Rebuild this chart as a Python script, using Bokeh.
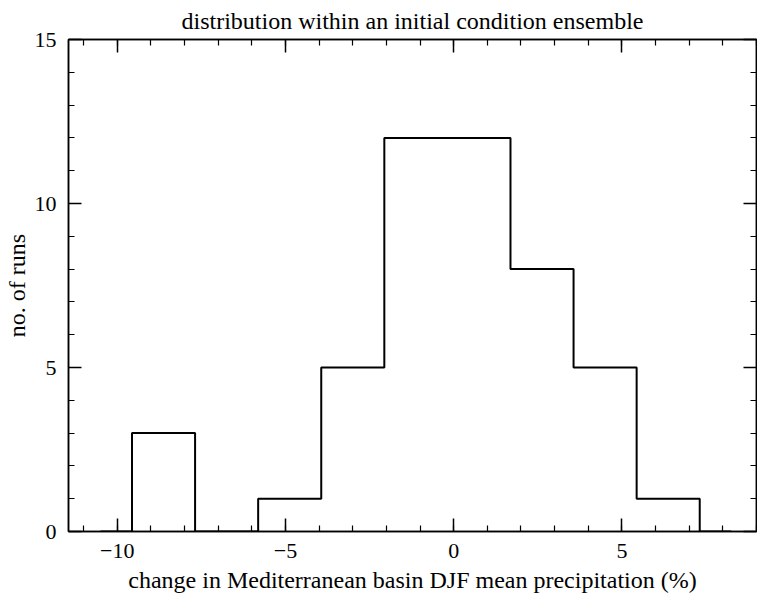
from bokeh.plotting import figure
from bokeh.models import Range1d, LinearAxis, SingleIntervalTicker
from bokeh.embed import file_html
from bokeh.resources import INLINE

# ---- data ----
bin_centers = [-10.5, -8.625, -6.75, -4.875, -3.0, -1.125, 0.75, 2.625, 4.5, 6.375, 8.25]
run_counts = [0, 3, 0, 1, 5, 12, 12, 8, 5, 1, 0]
x_tick_values = [-10, -5, 0, 5]
x_tick_labels = ["\u221210", "\u22125", "0", "5"]
y_tick_values = [0, 5, 10, 15]
y_tick_labels = ["0", "5", "10", "15"]

title_text = "distribution within an initial condition ensemble"
x_label = "change in Mediterranean basin DJF mean precipitation (%)"
y_label = "no. of runs"

FONT = "Liberation Serif"

p = figure(width=757, height=600, output_backend="svg", toolbar_location=None,
           x_range=Range1d(-11.45, 9.0), y_range=Range1d(0, 15),
           x_axis_type=None, y_axis_type=None,
           min_border_left=68, min_border_right=1, min_border_top=39, min_border_bottom=69)
p.background_fill_color = "white"
p.border_fill_color = "white"
p.outline_line_color = "black"
p.outline_line_width = 1.5
p.grid.visible = False

p.title.text = title_text
p.title.text_font = FONT
p.title.text_font_size = "24px"
p.title.text_font_style = "normal"
p.title.text_color = "black"
p.title.align = "center"
p.title.standoff = 11


def style_axis(ax, labels, show):
    ax.axis_line_color = "black"
    ax.axis_line_width = 1.5
    ax.major_tick_in = 13
    ax.major_tick_out = 0
    ax.minor_tick_in = 6
    ax.minor_tick_out = 0
    ax.major_tick_line_color = "black"
    ax.major_tick_line_width = 1.5
    ax.minor_tick_line_color = "black"
    ax.minor_tick_line_width = 1.2
    if show:
        ax.major_label_text_font = FONT
        ax.major_label_text_font_size = "22px"
        ax.major_label_text_color = "black"
        ax.major_label_overrides = dict(zip(labels[0], labels[1]))
        ax.axis_label_text_font = FONT
        ax.axis_label_text_font_size = "24px"
        ax.axis_label_text_font_style = "normal"
        ax.axis_label_text_color = "black"
    else:
        ax.major_label_text_font_size = "1px"
        ax.major_label_text_color = None
        ax.major_label_standoff = 0


xb = LinearAxis(ticker=SingleIntervalTicker(interval=5, num_minor_ticks=5))
style_axis(xb, (x_tick_values, x_tick_labels), True)
xb.major_label_standoff = 12
xb.axis_label = x_label
xb.axis_label_standoff = 6
p.add_layout(xb, "below")

xt = LinearAxis(ticker=SingleIntervalTicker(interval=5, num_minor_ticks=5))
style_axis(xt, None, False)
p.add_layout(xt, "above")

yl = LinearAxis(ticker=SingleIntervalTicker(interval=5, num_minor_ticks=5))
style_axis(yl, (y_tick_values, y_tick_labels), True)
yl.major_label_standoff = 12
yl.axis_label = y_label
yl.axis_label_standoff = 2
p.add_layout(yl, "left")

yr = LinearAxis(ticker=SingleIntervalTicker(interval=5, num_minor_ticks=5))
style_axis(yr, None, False)
p.add_layout(yr, "right")

p.step(x=bin_centers, y=run_counts, mode="center", line_color="black", line_width=2)

open("out.html", "w").write(file_html(p, INLINE))
